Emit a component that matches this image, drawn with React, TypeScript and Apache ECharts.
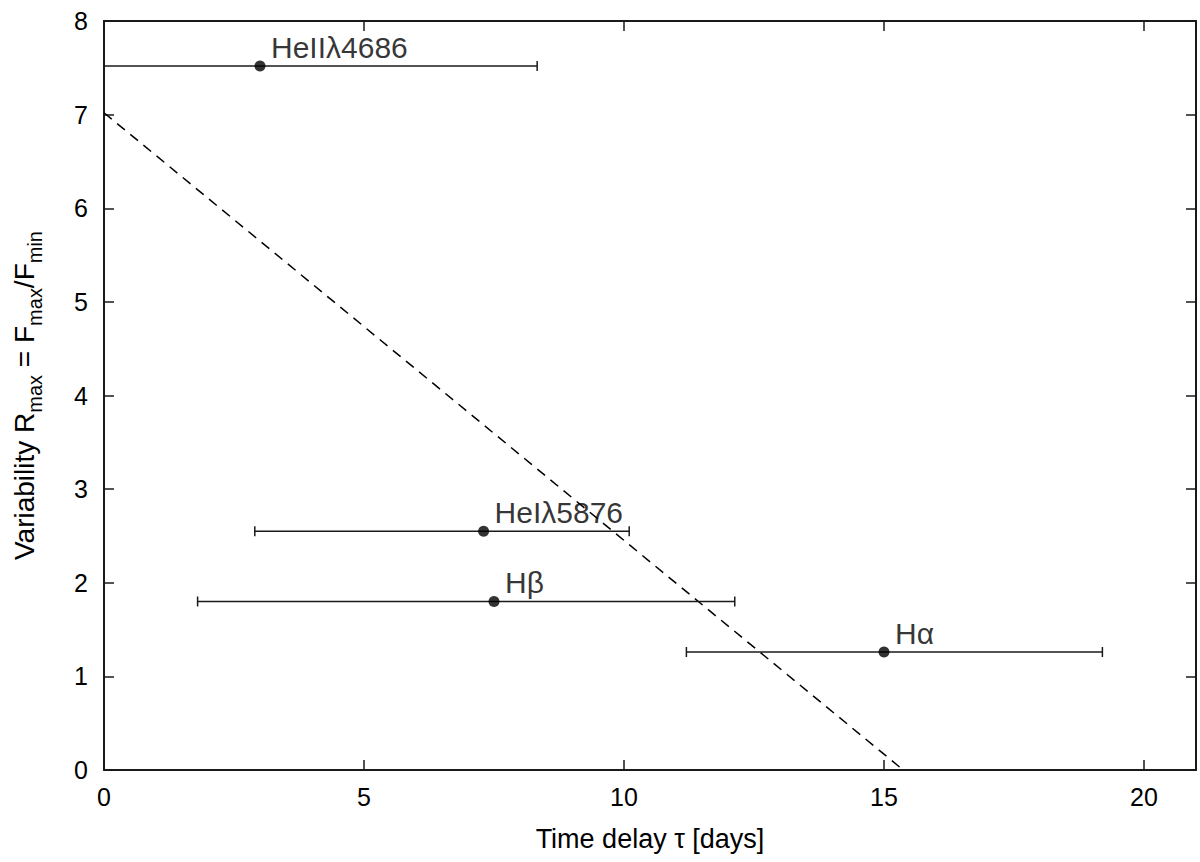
import React, { useEffect, useRef } from "react";
import * as echarts from "echarts";

const lineLabels = ["HeIIλ4686", "HeIλ5876", "Hβ", "Hα"];
const delayCenters = [3.0, 7.3, 7.5, 15.0];
const variability = [7.52, 2.55, 1.8, 1.26];
const delayLow = [-2.3, 2.9, 1.8, 11.2];
const delayHigh = [8.33, 10.1, 12.13, 19.2];
const fitX = [0, 15.37];
const fitY = [7.02, 0];
const xTickMin = 0;
const xTickMax = 21;
const xTickStep = 5;
const yTickMin = 0;
const yTickMax = 8;
const yTickStep = 1;

const FONT = "'Liberation Sans', Arial, Helvetica, sans-serif";
const INK = "#1a1a1a";

export default function App() {
  const ref = useRef<HTMLDivElement>(null);

  useEffect(() => {
    if (!ref.current) return;
    const chart = echarts.init(ref.current, undefined, { renderer: "svg" });

    const errData = delayCenters.map((x, i) => [x, variability[i], delayLow[i], delayHigh[i]]);
    const pointData = delayCenters.map((x, i) => [x, variability[i]]);
    const fitData = fitX.map((x, i) => [x, fitY[i]]);

    const axisLine = { show: true, onZero: false, lineStyle: { color: INK, width: 2 } };
    const tick = { show: true, inside: true, length: 10, lineStyle: { color: INK, width: 1.5 } };

    const option: any = {
      animation: false,
      backgroundColor: "#ffffff",
      grid: { left: 104, top: 21, right: 4, bottom: 92, containLabel: false },
      xAxis: [
        {
          type: "value",
          position: "bottom",
          min: xTickMin,
          max: xTickMax,
          interval: xTickStep,
          axisLine,
          axisTick: tick,
          splitLine: { show: false },
          axisLabel: {
            fontSize: 25,
            color: "#000",
            fontFamily: FONT,
            margin: 14,
            showMaxLabel: false,
          },
          name: "Time delay τ [days]",
          nameLocation: "middle",
          nameGap: 55,
          nameTextStyle: { fontSize: 27, color: "#000", fontFamily: FONT },
        },
        {
          type: "value",
          position: "top",
          min: xTickMin,
          max: xTickMax,
          interval: xTickStep,
          axisLine,
          axisTick: tick,
          splitLine: { show: false },
          axisLabel: { show: false },
        },
      ],
      yAxis: [
        {
          type: "value",
          position: "left",
          min: yTickMin,
          max: yTickMax,
          interval: yTickStep,
          axisLine,
          axisTick: tick,
          splitLine: { show: false },
          axisLabel: { fontSize: 25, color: "#000", fontFamily: FONT, margin: 16 },
          name: "{b|Variability R}{s|max}{b| = F}{s|max}{b|/F}{s|min}",
          nameLocation: "middle",
          nameRotate: 90,
          nameGap: 62,
          nameTextStyle: {
            color: "#000",
            fontFamily: FONT,
            fontSize: 28,
            rich: {
              b: { fontSize: 28, lineHeight: 32, verticalAlign: "top", fontFamily: FONT, color: "#000" },
              s: {
                fontSize: 20,
                lineHeight: 20,
                padding: [15, 0, 0, 0],
                verticalAlign: "top",
                fontFamily: FONT,
                color: "#000",
              },
            },
          },
        },
        {
          type: "value",
          position: "right",
          min: yTickMin,
          max: yTickMax,
          interval: yTickStep,
          axisLine,
          axisTick: tick,
          splitLine: { show: false },
          axisLabel: { show: false },
        },
      ],
      series: [
        {
          type: "line",
          data: fitData,
          symbol: "none",
          lineStyle: { color: "#000", width: 1.5, type: [10, 7] },
          z: 2,
        },
        {
          type: "custom",
          data: errData,
          encode: { x: [2, 3], y: 1 },
          z: 3,
          renderItem: (params: any, api: any) => {
            const y = api.value(1);
            const lo = api.value(2);
            const hi = api.value(3);
            const p1 = api.coord([lo, y]);
            const p2 = api.coord([hi, y]);
            const cs = params.coordSys;
            const left = cs.x;
            const right = cs.x + cs.width;
            const x1 = Math.max(p1[0], left);
            const x2 = Math.min(p2[0], right);
            const style = { stroke: INK, lineWidth: 1.5, fill: "none" };
            const children: any[] = [
              { type: "line", shape: { x1, y1: p1[1], x2, y2: p1[1] }, style },
            ];
            if (p1[0] >= left) {
              children.push({ type: "line", shape: { x1: p1[0], y1: p1[1] - 5, x2: p1[0], y2: p1[1] + 5 }, style });
            }
            if (p2[0] <= right) {
              children.push({ type: "line", shape: { x1: p2[0], y1: p2[1] - 5, x2: p2[0], y2: p2[1] + 5 }, style });
            }
            return { type: "group", children };
          },
        },
        {
          type: "scatter",
          data: pointData,
          symbol: "circle",
          symbolSize: 11,
          itemStyle: { color: "#000" },
          z: 4,
          label: {
            show: true,
            position: [16.5, -13],
            align: "left",
            verticalAlign: "middle",
            fontSize: 30,
            color: "#000",
            textBorderWidth: 0,
            fontFamily: FONT,
            formatter: (p: any) => lineLabels[p.dataIndex],
          },
        },
      ],
    };

    chart.setOption(option);
    return () => chart.dispose();
  }, []);

  return (
    <div
      ref={ref}
      style={{ position: "fixed", left: 0, top: 0, width: 1200, height: 862, background: "#fff" }}
    />
  );
}
